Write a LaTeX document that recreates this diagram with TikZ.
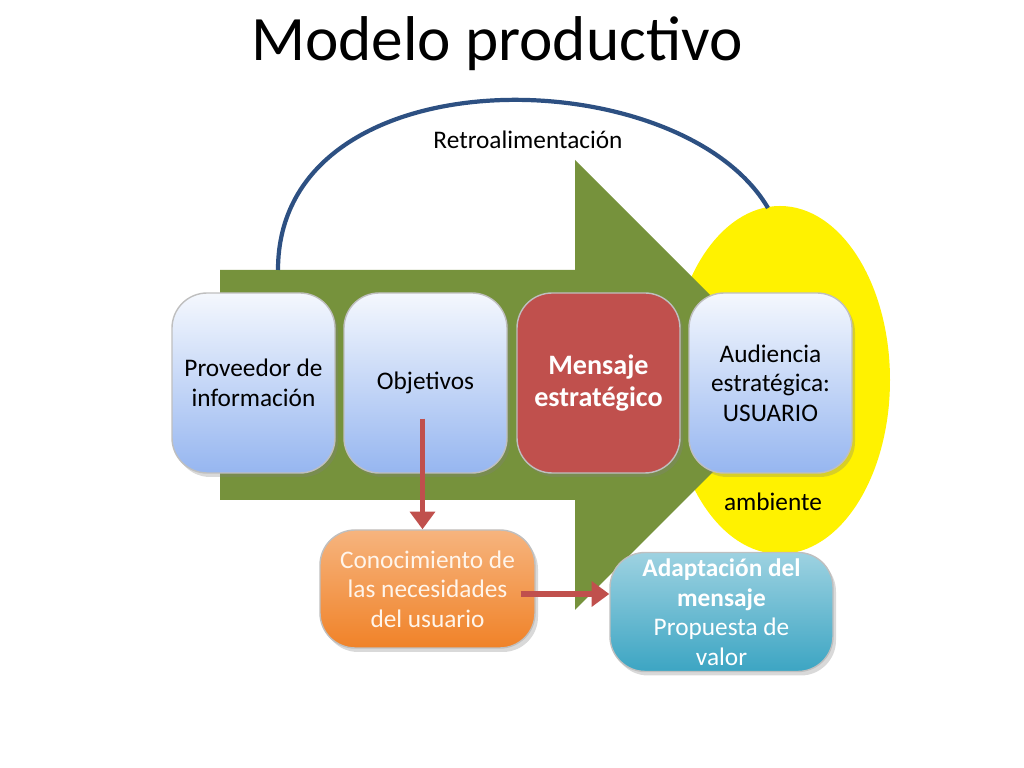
\documentclass[tikz,border=0pt]{standalone}
\usepackage{fontspec}
\setmainfont{Carlito}
\usetikzlibrary{positioning,arrows.meta,shadows}
\definecolor{olive}{RGB}{118,146,60}
\definecolor{boxred}{RGB}{192,80,77}
\definecolor{boxblue}{RGB}{150,182,240}
\definecolor{boxorange}{RGB}{240,130,40}
\definecolor{boxcyan}{RGB}{60,165,195}
\definecolor{arcblue}{RGB}{45,80,130}
\tikzset{
    stage/.style={draw=black!25, rounded corners=10pt, minimum width=1.63cm,
        minimum height=1.8cm, align=center, font=\fontsize{7.2}{8.4}\selectfont,
        drop shadow={opacity=0.3, shadow xshift=0.03cm, shadow yshift=-0.04cm}},
    bluestage/.style={stage, top color=white!90!boxblue, bottom color=boxblue},
    redarrow/.style={draw=boxred, line width=1.5pt, -{Triangle[length=5pt,width=7pt]}}
}
\begin{document}
\begin{tikzpicture}
    % page frame, 1 cm = 100 px
    \useasboundingbox (0,0) rectangle (10.24,7.68);

    % title
    \node (title) at (4.97,7.24) {\fontsize{18}{21}\selectfont Modelo productivo};

    % environment
    \fill[yellow] (7.80,3.88) ellipse (1.10 and 1.74);
    \node (ambiente) at (7.73,2.66) {\fontsize{7.2}{8.4}\selectfont ambiente};

    % big process arrow
    \fill[olive] (2.20,4.98) -- (5.75,4.98) -- (5.75,6.08) -- (8.00,3.83)
        -- (5.75,1.58) -- (5.75,2.68) -- (2.20,2.68) -- cycle;

    % feedback arc
    \coordinate (fbstart) at (2.78,4.98);
    \coordinate (fbend) at (7.68,5.60);
    \draw[arcblue, line width=1.2pt] (fbstart) .. controls (2.78,7.17) and (6.80,7.10) .. (fbend);
    \node (retro) at (5.28,6.28) {\fontsize{7.2}{8.4}\selectfont Retroalimentación};

    % stages
    \node[bluestage] (prov) at (2.535,3.85) {Proveedor de\\información};
    \node[bluestage] (obj) at (4.255,3.85) {Objetivos};
    \node[stage, fill=boxred, text=white, font=\fontsize{8}{9}\selectfont\bfseries] (msg) at (5.985,3.85) {Mensaje\\estratégico};
    \node[bluestage] (aud) at (7.705,3.85) {Audiencia\\estratégica:\\USUARIO};

    % lower boxes
    \node[stage, minimum width=2.15cm, minimum height=1.18cm,
        top color=boxorange!60!white, bottom color=boxorange, text=white!92!orange] (conoc) at (4.275,1.79)
        {Conocimiento de\\las necesidades\\del usuario};
    \node[stage, minimum width=2.23cm, minimum height=1.19cm, inner sep=1pt,
        top color=boxcyan!50!white, bottom color=boxcyan, text=white] (adapt) at (7.215,1.56)
        {\textbf{Adaptación del}\\\textbf{mensaje}\\Propuesta de\\valor};

    % connectors
    \coordinate (objlow) at ([xshift=-0.03cm,yshift=0.55cm]obj.south);
    \coordinate (conocright) at ([yshift=-0.05cm,xshift=-0.15cm]conoc.east);
    \draw[redarrow] (objlow) -- (conoc.north -| objlow);
    \draw[redarrow] (conocright) -- (adapt.west |- conocright);
\end{tikzpicture}
\end{document}
